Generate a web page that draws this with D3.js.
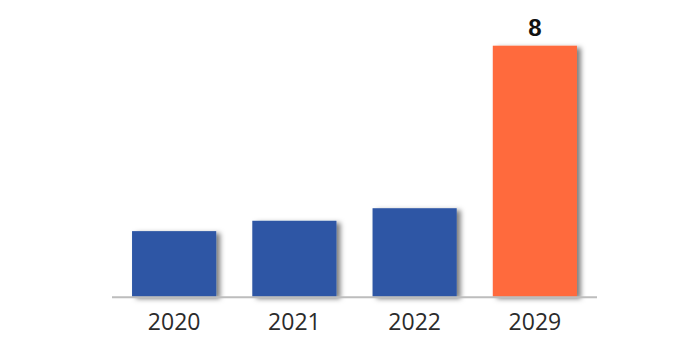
<!DOCTYPE html>
<html><head><meta charset="utf-8">
<script src="https://cdn.jsdelivr.net/npm/d3@7"></script>
<style>html,body{margin:0;padding:0;background:#fff;}svg{display:block;}</style>
</head><body>
<svg id="c" width="680" height="351"></svg>
<script>
const categories = ["2020", "2021", "2022", "2029"];
const values = [2.09, 2.42, 2.82, 8];
const labels = ["", "", "", "8"];
const colors = ["#2D57A5", "#2D57A5", "#2D57A5", "#FF6A3D"];

const svg = d3.select("#c");
const defs = svg.append("defs");
const f = defs.append("filter").attr("id","sh").attr("x","-20%").attr("y","-20%").attr("width","150%").attr("height","150%");
f.append("feDropShadow").attr("dx",4).attr("dy",2).attr("stdDeviation",2.5).attr("flood-color","#000").attr("flood-opacity",0.5);

const x = d3.scaleBand().domain(categories).range([114, 595]).paddingInner(0.3).paddingOuter(0.15);
const y = d3.scaleLinear().domain([0, 8]).range([296.7, 45.7]);

svg.selectAll("rect.bar").data(categories).enter().append("rect")
  .attr("class","bar")
  .attr("x", d => x(d))
  .attr("y", (d,i) => y(values[i]))
  .attr("width", x.bandwidth())
  .attr("height", (d,i) => y(0) - y(values[i]))
  .attr("fill", (d,i) => colors[i])
  .attr("filter","url(#sh)");

svg.append("line").attr("x1",112).attr("x2",597).attr("y1",y(0)+0.5).attr("y2",y(0)+0.5)
  .attr("stroke","#bdbdbd").attr("stroke-width",2);

const ax = svg.append("g").attr("transform",`translate(0,${y(0)})`)
  .call(d3.axisBottom(x).tickSize(0).tickPadding(17));
ax.select(".domain").remove();
ax.selectAll("text").attr("font-family","'Open Sans', 'Liberation Sans', sans-serif").attr("font-size",23).attr("fill","#2b2b2b");

svg.selectAll("text.val").data(categories).enter().append("text")
  .attr("class","val")
  .attr("x", d => x(d) + x.bandwidth()/2)
  .attr("y", (d,i) => y(values[i]) - 10)
  .attr("text-anchor","middle")
  .attr("font-family","'Liberation Sans', Arial, sans-serif")
  .attr("font-weight","bold").attr("font-size",24).attr("fill","#111")
  .text((d,i) => labels[i]);
</script>
</body></html>
